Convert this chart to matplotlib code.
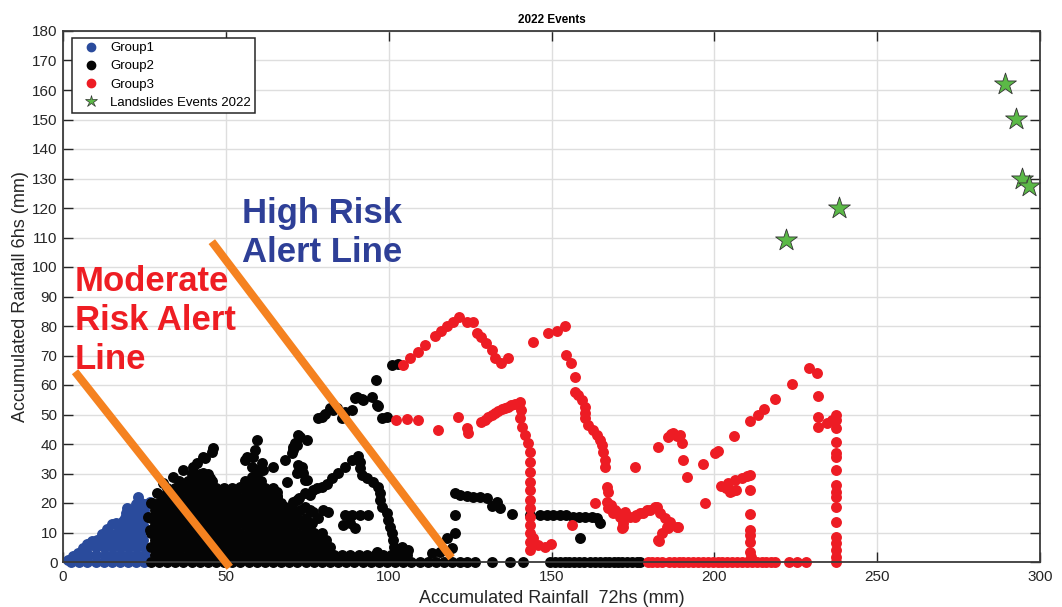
import matplotlib
matplotlib.use("Agg")
import matplotlib.pyplot as plt
from matplotlib.lines import Line2D

plt.rcParams['font.family'] = ['Liberation Sans', 'DejaVu Sans']

# ---------------------------------------------------------------- data
# Group 1 (low rainfall): outer edge of the cloud and the filled rows under it
group1_edge_x = [1.5, 3.0, 4.5, 6.0, 7.5, 9.0, 10.5, 12.0, 13.5, 15.0, 16.2, 17.5,
                 18.5, 19.2, 19.6, 20.5, 21.5, 22.5, 23.0, 24.0, 25.5, 26.8]
group1_edge_y = [0.6, 1.9, 3.2, 4.6, 6.0, 7.2, 7.4, 9.6, 11.2, 12.8, 13.3, 11.8,
                 14.0, 16.5, 18.2, 16.5, 17.0, 19.5, 22.2, 20.0, 19.5, 20.5]
group1_rows_y = [0.0, 2.5, 5.0, 7.5, 10.0, 12.5, 15.0, 17.5, 20.0]
group1_rows_x = [
    [2.5, 5.0, 7.5, 10.0, 12.5, 15.0, 17.5, 20.0, 22.5, 25.0],
    [5.25, 7.75, 10.25, 12.75, 15.25, 17.75, 20.25, 22.75, 25.25],
    [7.5, 10.0, 12.5, 15.0, 17.5, 20.0, 22.5, 25.0],
    [12.0, 14.5, 17.0, 19.5, 22.0, 24.5],
    [14.0, 16.5, 19.0, 21.5, 24.0],
    [17.0, 19.5, 22.0, 24.5],
    [19.0, 21.5, 24.0],
    [22.5, 25.0],
    [23.5],
]

# Group 2 (moderate rainfall): dense core rows, scattered traces and zero-rain floor
group2_rows_y = [0.0, 2.5, 5.0, 7.5, 10.0, 12.5, 15.0, 17.5, 20.0, 22.5, 25.0, 27.5, 30.0]
group2_rows_x = [
    [27, 29.5, 32, 34.5, 37, 39.5, 42, 44.5, 47, 49.5, 52, 54.5, 57, 59.5, 62, 64.5,
     67, 69.5, 72, 74.5, 77, 79.5, 82, 84.5, 87, 89.5, 92, 94.5, 97, 99.5, 102,
     104.5, 107, 109.5, 112, 114.5, 117, 119.5],
    [28.25, 30.75, 33.25, 35.75, 38.25, 40.75, 43.25, 45.75, 48.25, 50.75, 53.25,
     55.75, 58.25, 60.75, 63.25, 65.75, 68.25, 70.75, 73.25, 75.75, 78.25, 80.75,
     83.25, 85.75, 88.25, 90.75, 93.25, 95.75, 98.25, 100.75, 103.25, 105.75],
    [27, 29.5, 32, 34.5, 37, 39.5, 42, 44.5, 47, 49.5, 52, 54.5, 57, 59.5, 62, 64.5,
     67, 69.5, 72, 74.5, 77, 79.5, 82],
    [28.25, 30.75, 33.25, 35.75, 38.25, 40.75, 43.25, 45.75, 48.25, 50.75, 53.25,
     55.75, 58.25, 60.75, 63.25, 65.75, 68.25, 70.75, 73.25, 75.75, 78.25, 80.75],
    [27, 29.5, 32, 34.5, 37, 39.5, 42, 44.5, 47, 49.5, 52, 54.5, 57, 59.5, 62, 64.5,
     67, 69.5, 72, 74.5, 77, 79.5],
    [28.25, 30.75, 33.25, 35.75, 38.25, 40.75, 43.25, 45.75, 48.25, 50.75, 53.25,
     55.75, 58.25, 60.75, 63.25, 65.75, 68.25, 70.75, 73.25, 75.75],
    [27, 29.5, 32, 34.5, 37, 39.5, 42, 44.5, 47, 49.5, 52, 54.5, 57, 59.5, 62, 64.5,
     67, 69.5, 72, 74.5],
    [28.25, 30.75, 33.25, 35.75, 38.25, 40.75, 43.25, 45.75, 48.25, 50.75, 53.25,
     55.75, 58.25, 60.75, 63.25, 65.75, 68.25, 70.75],
    [27, 29.5, 32, 34.5, 37, 39.5, 42, 44.5, 47, 49.5, 52, 54.5, 57, 59.5, 62, 64.5, 67],
    [30.75, 33.25, 35.75, 38.25, 40.75, 43.25, 45.75, 48.25, 50.75, 53.25, 55.75,
     58.25, 60.75, 63.25, 65.75],
    [32, 34.5, 37, 39.5, 42, 44.5, 47, 49.5, 52, 54.5, 57, 59.5, 62, 64.5],
    [35.75, 38.25, 40.75, 43.25, 45.75, 55.75, 58.25, 60.75],
    [39.5, 42, 44.5, 59.5],
]
group2_trace_x = [
    26.7, 26.2, 27.2, 28.8, 30.8, 33.9, 36.9, 40.0, 43.1, 46.2, 45.7, 43.6, 41.0, 43.1,
    45.1, 49.2, 50.8, 48.2, 50.3, 54.9,
    59.5, 59.0, 58.4, 56.4, 55.9, 57.9, 61.0, 59.5, 57.9, 56.9, 54.3, 61.5, 64.6, 60.5,
    65.6, 65.6, 66.6,
    68.2, 70.2, 70.7, 71.7, 72.2, 72.8, 74.8, 71.2, 70.7, 72.2, 73.3, 71.7, 73.8, 74.3,
    74.8, 68.7, 71.7, 74.3, 75.8, 77.9, 72.8, 75.8, 76.9, 74.2, 76.4, 79.9, 81.5, 78.4,
    76.9, 68.2,
    78.4, 79.4, 80.5, 82.0, 83.0, 84.0, 85.6, 86.6, 88.6, 89.7, 90.2, 91.7, 92.2, 94.8,
    96.3, 96.8, 96.1, 97.9, 99.6, 100.9, 102.9,
    70.7, 72.5, 74.3, 76.9, 79.4, 81.0, 82.5, 84.5, 86.6, 88.6, 90.7, 91.2, 91.2, 91.7,
    93.2, 95.3, 96.8, 97.3, 97.3, 97.9, 99.4, 99.9, 100.4, 100.9, 101.4, 101.6, 101.9,
    86.6, 88.6, 91.2, 93.7, 86.1, 88.1, 89.7,
    96.3, 104.0, 106.0, 113.2, 115.8, 117.8, 119.6, 120.4, 120.4, 120.4,
    121.9, 123.9, 126.0, 128.0, 130.1, 131.6, 133.2, 134.2, 137.8, 143.4, 146.5, 148.5,
    150.5, 152.5, 154.5, 156.7, 158.5, 160.3, 162.5, 163.9, 165.0, 158.7,
]
group2_trace_y = [
    10.8, 15.4, 19.9, 23.3, 26.7, 28.9, 31.2, 32.3, 35.7, 38.5, 37.4, 35.2, 33.5, 30.1,
    28.4, 24.4, 22.1, 22.7, 18.7, 15.9,
    41.4, 38.0, 35.7, 35.7, 34.6, 32.3, 33.5, 31.2, 28.9, 26.7, 25.5, 31.2, 32.3, 26.1,
    23.8, 22.1, 19.3,
    34.6, 36.8, 39.1, 39.7, 43.0, 42.5, 41.4, 40.2, 38.0, 32.9, 32.3, 30.1, 30.1, 27.8,
    27.8, 27.0, 21.0, 18.7, 22.7, 25.0, 17.6, 17.6, 17.0, 14.2, 13.1, 17.6, 17.0, 14.8,
    9.7, 18.7,
    48.7, 49.3, 50.3, 52.1, 51.5, 52.1, 48.7, 51.0, 51.5, 55.5, 56.0, 55.2, 54.9, 56.0,
    53.2, 52.9, 61.7, 48.7, 49.0, 66.8, 67.1,
    20.4, 21.8, 23.3, 24.4, 25.5, 26.5, 28.4, 30.1, 32.3, 34.6, 35.9, 34.0, 31.8, 29.5,
    28.4, 27.2, 25.5, 23.3, 21.0, 18.7, 16.5, 14.2, 12.0, 9.7, 7.5, 5.2, 2.9,
    15.9, 15.9, 15.9, 15.9, 12.5, 13.1, 11.4,
    3.5, 5.2, 4.1, 3.2, 3.5, 8.0, 4.6, 10.0, 15.9, 23.5,
    22.7, 22.4, 22.1, 21.9, 21.6, 19.0, 20.4, 18.2, 16.2, 15.9, 15.9, 15.9,
    15.9, 15.9, 15.9, 15.4, 15.4, 15.2, 15.2, 14.9, 13.2, 8.0,
]
group2_floor_x = [121.9, 123.9, 126.5, 131.6, 137.2, 141.3, 149.5, 151.0, 152.5, 154.0,
                  155.5, 157.0, 158.5, 160.0, 161.8, 163.3, 164.8, 166.3, 167.8, 169.3,
                  170.5, 171.8, 173.3, 174.8, 176.3, 177.3]

# Group 3 (high rainfall)
group3_x = [
    104.5, 106.5, 109.1, 111.1, 114.2, 116.0, 117.8, 119.8, 121.7, 123.9, 126.0, 127.0,
    128.5, 130.0, 131.6, 132.6, 134.6, 136.7,
    144.2, 149.0, 151.6, 154.1,
    154.6, 155.9, 157.2, 157.2, 158.2, 159.3, 160.3, 160.3, 160.3, 161.3, 162.8, 163.9,
    164.9, 165.4, 165.9, 166.4, 166.4,
    102.4, 105.5, 109.1, 115.2, 121.4, 123.9, 124.4, 128.5, 129.5, 130.6, 131.6, 132.6,
    133.6, 134.7, 135.7, 136.7, 137.7, 138.8, 140.3, 140.5, 140.3, 140.8, 141.9, 142.9,
    143.4, 143.4, 143.4, 143.4, 143.4, 143.4, 143.4, 143.4, 143.4, 143.4, 143.4, 143.4,
    144.4, 145.9, 148.0, 149.7, 156.2,
    166.9, 167.4, 166.9, 167.4, 169.0, 171.0, 172.0, 171.5, 172.6, 174.1, 175.6, 176.1,
    177.2, 178.2, 179.2, 180.2, 181.8, 182.3, 183.3, 184.8, 185.4, 186.4, 188.4, 188.7,
    185.8, 183.8, 182.8, 183.1, 163.3, 168.4, 169.5, 170.5, 171.5, 172.0,
    175.6, 182.8, 185.8, 186.8, 187.4, 188.5, 189.4, 190.0, 190.5, 191.5, 196.6, 197.1,
    200.2, 201.2, 206.1, 211.1, 213.5, 215.2, 218.6, 223.7, 229.1, 231.6, 231.9, 231.9,
    231.9, 234.5, 236.0,
    202.2, 203.5, 204.3, 205.3, 206.3, 206.8, 208.4, 209.9, 211.1, 210.9, 204.8,
    210.9, 210.9, 210.9, 211.1, 210.9, 211.2,
    237.3, 237.3, 237.3, 237.3, 237.3, 237.3, 237.3, 237.3, 237.3, 237.3, 237.3, 237.3,
    237.3, 237.3, 237.3, 237.3, 237.3,
]
group3_y = [
    66.8, 69.0, 71.3, 73.6, 76.6, 78.3, 80.0, 81.5, 82.9, 81.5, 81.5, 77.5,
    76.4, 74.1, 71.9, 69.0, 67.3, 69.3,
    74.7, 77.7, 78.4, 80.0,
    70.2, 67.3, 62.6, 57.7, 56.6, 54.9, 52.6, 50.5, 48.7, 46.4, 44.7, 43.0,
    41.4, 39.7, 37.4, 34.6, 32.3,
    48.1, 48.4, 48.1, 44.7, 49.3, 45.3, 43.6, 47.6, 48.3, 49.0, 49.7, 50.4,
    51.1, 51.8, 52.2, 52.6, 53.1, 53.6, 54.3, 51.5, 48.7, 45.9, 43.0, 40.2,
    37.4, 34.0, 30.6, 27.2, 24.4, 21.0, 18.2, 15.4, 12.5, 9.7, 6.9, 4.1,
    8.0, 5.8, 5.2, 6.1, 12.5,
    25.5, 23.8, 20.4, 18.2, 16.5, 15.4, 13.1, 11.4, 17.0, 15.4, 15.4, 15.9,
    16.5, 16.5, 17.6, 17.6, 18.7, 18.7, 16.5, 14.8, 12.0, 13.7, 12.0, 12.0,
    11.4, 9.7, 7.5, 7.2, 19.9, 19.3, 17.6, 16.5, 14.8, 12.0,
    32.1, 39.1, 42.5, 43.4, 43.6, 42.6, 43.0, 40.2, 34.6, 28.7, 33.1, 20.1,
    36.8, 37.7, 42.7, 47.8, 49.8, 51.9, 55.3, 60.2, 65.9, 64.0, 56.3, 49.3,
    45.9, 47.2, 48.3,
    25.8, 25.2, 26.7, 24.2, 27.8, 24.4, 28.4, 29.2, 29.5, 24.4, 23.8,
    16.2, 10.8, 9.2, 6.9, 3.5, 1.8,
    49.8, 48.1, 45.3, 40.8, 36.8, 35.7, 31.2, 26.1, 23.8, 22.1, 18.7, 13.7,
    8.6, 6.3, 4.1, 1.8, 0.1,
]
group3_floor_x = [179.5, 181.0, 182.5, 184.0, 186.0, 187.5, 189.0, 190.5, 192.0, 193.5,
                  195.0, 196.5, 198.0, 199.5, 201.0, 202.5, 204.0, 205.5, 207.0, 208.5,
                  210.0, 211.5, 213.0, 214.5, 216.0, 217.5, 218.6, 222.8, 225.4, 228.3]

# Landslides recorded in 2022
landslide_x = [222.0, 238.3, 289.2, 292.6, 294.6, 296.5]
landslide_y = [109.0, 120.0, 162.0, 150.2, 130.0, 127.6]

# Alert thresholds (end points of each line)
moderate_line_x = [3.7, 51.2]
moderate_line_y = [64.5, -1.8]
high_line_x = [45.7, 119.3]
high_line_y = [108.6, 1.4]

x_ticks = [0, 50, 100, 150, 200, 250, 300]
y_ticks = list(range(0, 181, 10))

# ---------------------------------------------------------------- helpers
def flatten_rows(rows_y, rows_x):
    xs, ys = [], []
    for yv, row in zip(rows_y, rows_x):
        xs.extend(row)
        ys.extend([yv] * len(row))
    return xs, ys


BLUE = '#2A4B9C'
BLACK = '#050505'
RED = '#ED1C24'
GREEN = '#5BB947'
ORANGE = '#F58220'
DOT = 62

g1_fill_x, g1_fill_y = flatten_rows(group1_rows_y, group1_rows_x)
g1_x = group1_edge_x + g1_fill_x
g1_y = group1_edge_y + g1_fill_y

g2_fill_x, g2_fill_y = flatten_rows(group2_rows_y, group2_rows_x)
g2_x = g2_fill_x + group2_trace_x + group2_floor_x
g2_y = g2_fill_y + group2_trace_y + [0.0] * len(group2_floor_x)

g3_x = group3_x + group3_floor_x
g3_y = group3_y + [0.0] * len(group3_floor_x)

# ---------------------------------------------------------------- figure
fig = plt.figure(figsize=(10.62, 6.07), dpi=100)
ax = fig.add_axes([63 / 1062, 45 / 607, 977 / 1062, 531 / 607])

ax.scatter(g1_x, g1_y, s=DOT, c=BLUE, linewidths=0, clip_on=False, zorder=2)
ax.scatter(g2_x, g2_y, s=DOT, c=BLACK, linewidths=0, clip_on=False, zorder=2)
ax.scatter(g3_x, g3_y, s=DOT, c=RED, linewidths=0, clip_on=False, zorder=2)
ax.scatter(landslide_x, landslide_y, s=272, marker='*', c=GREEN,
           edgecolors='#333333', linewidths=0.6, clip_on=False, zorder=3)

ax.plot(moderate_line_x, moderate_line_y, color=ORANGE, lw=5.8,
        solid_capstyle='butt', clip_on=False, zorder=4)
ax.plot(high_line_x, high_line_y, color=ORANGE, lw=5.8,
        solid_capstyle='butt', clip_on=False, zorder=4)

ax.text(55.1, 123.6, 'High Risk\nAlert Line', color='#2E3F97', fontsize=25,
        fontweight='bold', ha='left', va='top', linespacing=1.2, zorder=5)
ax.text(3.6, 100.7, 'Moderate\nRisk Alert\nLine', color='#EE1D23', fontsize=25,
        fontweight='bold', ha='left', va='top', linespacing=1.24, zorder=5)

ax.set_xlim(0, 300)
ax.set_ylim(0, 180)
ax.set_xticks(x_ticks)
ax.set_yticks(y_ticks)
ax.set_axisbelow(True)
ax.grid(True, color='#dedede', lw=1.0)
ax.tick_params(direction='in', length=7, width=1.0, top=True, right=True,
               labelsize=11, colors='#262626', pad=4)
ax.tick_params(axis='x', pad=6)
for sp in ax.spines.values():
    sp.set_color('#3a3a3a')
    sp.set_linewidth(1.3)

ax.set_xlabel('Accumulated Rainfall  72hs (mm)', fontsize=13, color='#262626', labelpad=4)
ax.set_ylabel('Accumulated Rainfall 6hs (mm)', fontsize=13, color='#262626', labelpad=2)
ax.set_title('2022 Events', fontsize=8.5, fontweight='bold', pad=6)

handles = [
    Line2D([], [], ls='none', marker='o', ms=6, mfc=BLUE, mec=BLUE),
    Line2D([], [], ls='none', marker='o', ms=6, mfc=BLACK, mec=BLACK),
    Line2D([], [], ls='none', marker='o', ms=6, mfc=RED, mec=RED),
    Line2D([], [], ls='none', marker='*', ms=9, mfc=GREEN, mec='#333333', mew=0.5),
]
labels = ['Group1', 'Group2', 'Group3', 'Landslides Events 2022']
leg = ax.legend(handles, labels, loc='upper left', bbox_to_anchor=(9 / 977, 1 - 7 / 531),
                borderaxespad=0, fontsize=9.5, frameon=True, fancybox=False,
                edgecolor='#262626', framealpha=1, handlelength=2.3, handletextpad=0.3,
                borderpad=0.3, labelspacing=0.45)
leg.get_frame().set_linewidth(1.1)
leg.set_zorder(6)

fig.savefig('out.png', dpi=100)
